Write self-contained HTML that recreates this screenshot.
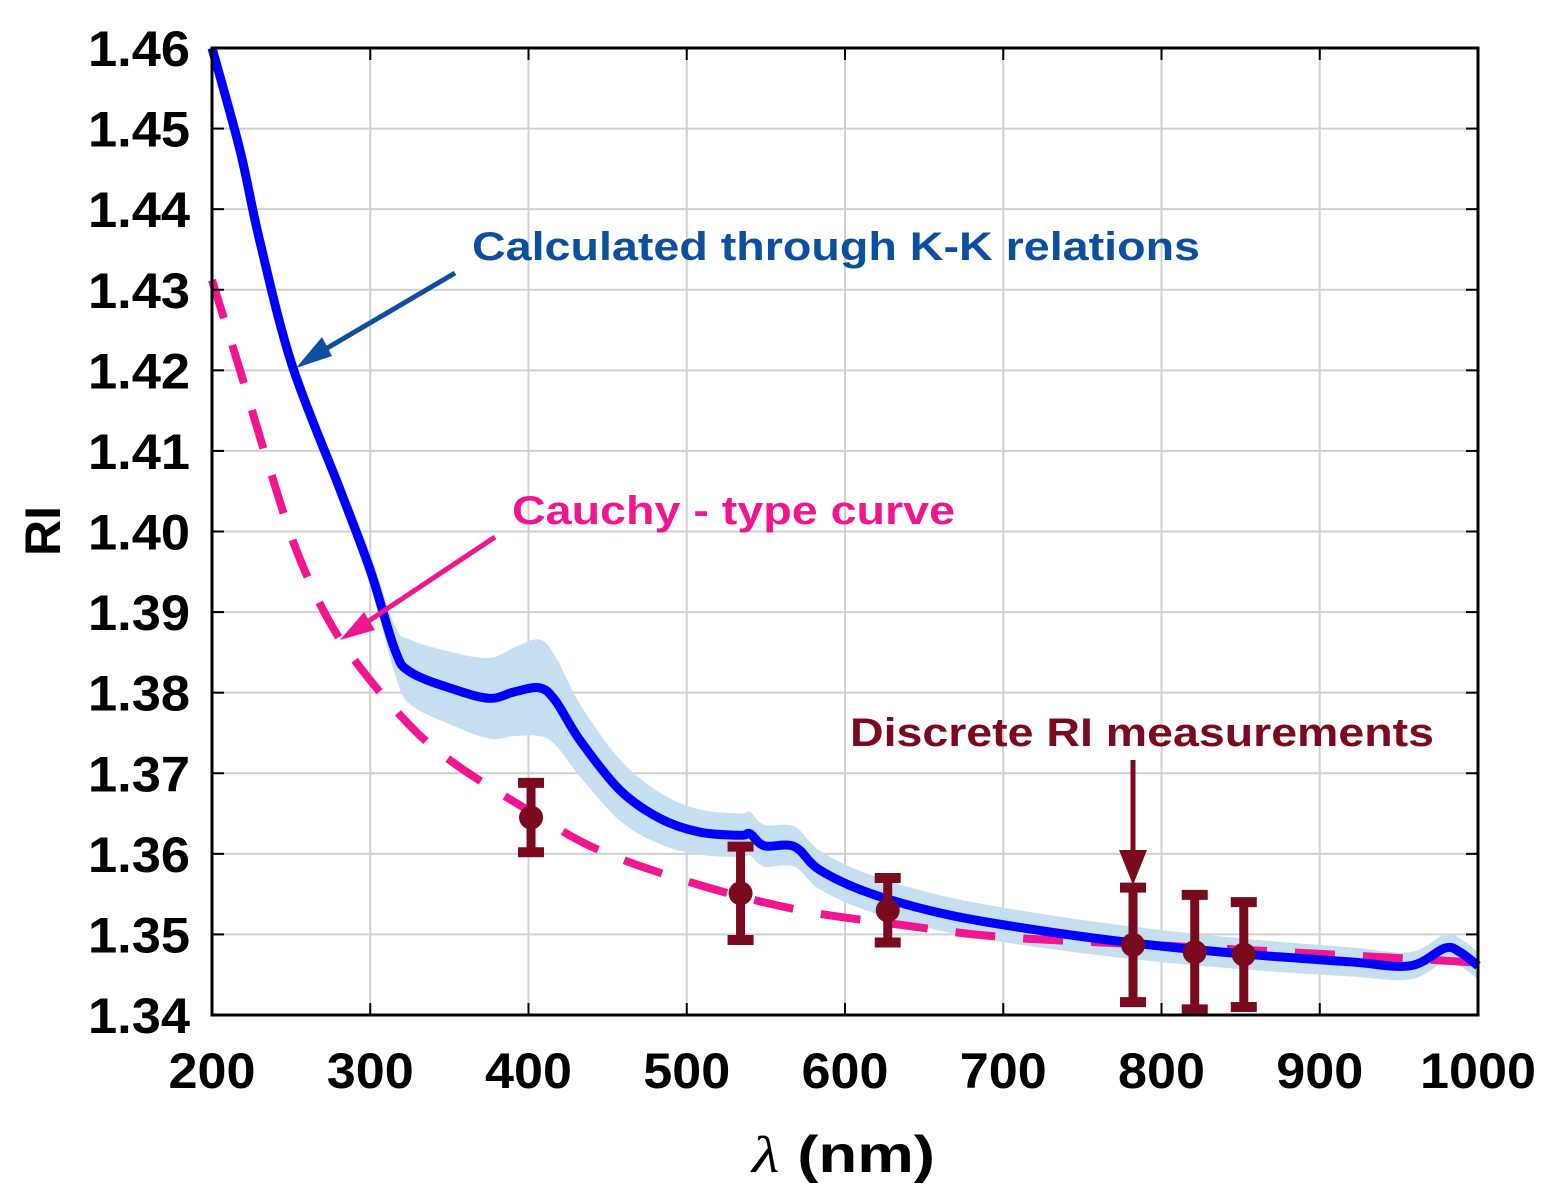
<!DOCTYPE html>
<html><head><meta charset="utf-8"><style>
body{margin:0;background:#fff;}
svg{display:block;font-family:"Liberation Sans",Arial,sans-serif;font-weight:bold;}
</style></head><body>
<svg id="chart" width="1551" height="1195" viewBox="0 0 1551 1195">
<g id="grid"></g>
<g id="band"></g>
<g id="series"></g>
<rect x="212" y="48" width="1266" height="967" fill="none" stroke="#000" stroke-width="3"/>
<g id="ticks"></g>
<text x="752" y="1172" font-size="52" textLength="183" lengthAdjust="spacingAndGlyphs"><tspan font-family="Liberation Serif" font-weight="normal" font-style="italic">λ</tspan> (nm)</text>
<text x="0" y="0" font-size="50" text-anchor="middle" transform="translate(60,531) rotate(-90)">RI</text>
<text x="472" y="260" font-size="40" fill="#0b4f9e" textLength="728" lengthAdjust="spacingAndGlyphs">Calculated through K-K relations</text>
<text x="512" y="524" font-size="40" fill="#f0168f" textLength="443" lengthAdjust="spacingAndGlyphs">Cauchy - type curve</text>
<text x="850" y="746" font-size="40" fill="#7a0a1e" textLength="584" lengthAdjust="spacingAndGlyphs">Discrete RI measurements</text>
<g><line x1="455" y1="273" x2="312" y2="357" stroke="#0b4f9e" stroke-width="5"/><polygon points="296,368 322,337 332,356" fill="#0b4f9e"/></g>
<g><line x1="495" y1="537" x2="355" y2="630" stroke="#f0168f" stroke-width="5"/><polygon points="340,640 364,612 375,630" fill="#f0168f"/></g>
<g><line x1="1133" y1="760" x2="1133" y2="858" stroke="#7a0a1e" stroke-width="5"/><polygon points="1133,885 1119,850 1147,850" fill="#7a0a1e"/></g>
</svg>
<script>
const xTicks=[200,300,400,500,600,700,800,900,1000];
const yTicks=[1.34,1.35,1.36,1.37,1.38,1.39,1.40,1.41,1.42,1.43,1.44,1.45,1.46];
const kkNm=[200,217.7,230,250.5,280.9,300,315.6,325,350,375,391,407,417,432.5,457.8,483,508,534,540,549,568,584,616,666,729.5,792.7,856,919,957,979,988.6,1000];
const kkRI=[1.46,1.4473,1.4362,1.4207,1.4052,1.3952,1.3853,1.3826,1.3806,1.3793,1.3801,1.3806,1.379,1.3741,1.3679,1.3644,1.3627,1.3623,1.3625,1.361,1.3609,1.358,1.3551,1.3524,1.3503,1.3487,1.3475,1.3466,1.3461,1.3483,1.3478,1.3461];
const kkErr=[0.0005,0.0008,0.001,0.0012,0.0015,0.002,0.003,0.004,0.0045,0.005,0.0055,0.006,0.0055,0.0045,0.0038,0.0032,0.0028,0.0027,0.0027,0.0026,0.0025,0.0024,0.0023,0.0022,0.0021,0.002,0.0019,0.0018,0.0017,0.0017,0.0017,0.0017];
const cNm=[200,217.7,236.7,255.7,281,318.9,350.5,399.8,445.3,508.5,571.7,634.9,698.1,792.9,937.2,1000];
const cRI=[1.4312,1.42,1.4076,1.3965,1.3866,1.3772,1.3716,1.3654,1.3604,1.3561,1.353,1.3512,1.3497,1.3487,1.3472,1.3465];
const mNm=[401.6,534,627,782,821,852];
const mRI=[1.3645,1.3551,1.353,1.3487,1.3478,1.3475];
const mErr=[0.0043,0.0058,0.004,0.0071,0.0071,0.0065];
const X=v=>212+(v-200)/800*1266, Y=v=>48+(1.46-v)/0.12*967;
const NS='http://www.w3.org/2000/svg';
function mk(p,t,a){const e=document.createElementNS(NS,t);for(const k in a)e.setAttribute(k,a[k]);p.appendChild(e);return e;}
function smooth(pts){let d='M'+pts[0][0]+','+pts[0][1];for(let i=0;i<pts.length-1;i++){const p0=pts[i-1]||pts[i],p1=pts[i],p2=pts[i+1],p3=pts[i+2]||p2;
d+=' C'+(p1[0]+(p2[0]-p0[0])/6)+','+(p1[1]+(p2[1]-p0[1])/6)+' '+(p2[0]-(p3[0]-p1[0])/6)+','+(p2[1]-(p3[1]-p1[1])/6)+' '+p2[0]+','+p2[1];}return d;}
const grid=document.getElementById('grid'),ticks=document.getElementById('ticks');
xTicks.forEach(t=>{const l=mk(grid,'line',{x1:X(t),x2:X(t),y1:48,y2:1015,stroke:'#d0d0d0','stroke-width':2});

mk(ticks,'line',{x1:X(t),x2:X(t),y1:1015,y2:1003,stroke:'#000','stroke-width':2});mk(ticks,'line',{x1:X(t),x2:X(t),y1:48,y2:60,stroke:'#000','stroke-width':2});
const s=String(t);const tx=mk(ticks,'text',{x:X(t),y:1088,'font-size':50,'text-anchor':'middle',textLength:s.length*29,lengthAdjust:'spacingAndGlyphs'});tx.textContent=s;
});
yTicks.forEach(t=>{const l=mk(grid,'line',{x1:212,x2:1478,y1:Y(t),y2:Y(t),stroke:'#d0d0d0','stroke-width':2});

mk(ticks,'line',{x1:212,x2:224,y1:Y(t),y2:Y(t),stroke:'#000','stroke-width':2});mk(ticks,'line',{x1:1466,x2:1478,y1:Y(t),y2:Y(t),stroke:'#000','stroke-width':2});
const tx=mk(ticks,'text',{x:88,y:Y(t)+18,'font-size':50,textLength:102,lengthAdjust:'spacingAndGlyphs'});tx.textContent=t.toFixed(2);
});
const up=kkNm.map((n,i)=>[X(n),Y(kkRI[i]+kkErr[i])]),lo=kkNm.map((n,i)=>[X(n),Y(kkRI[i]-kkErr[i])]).reverse();
const b=mk(document.getElementById('band'),'path',{d:smooth(up)+' L'+smooth(lo).slice(1)+' Z',fill:'#c6dff0'});

const s=document.getElementById('series');
const c=mk(s,'path',{d:smooth(cNm.map((n,i)=>[X(n),Y(cRI[i])])),fill:'none',stroke:'#f0168f','stroke-width':8,'stroke-dasharray':'40 28'});

const k=mk(s,'path',{d:smooth(kkNm.map((n,i)=>[X(n),Y(kkRI[i])])),fill:'none',stroke:'#0000ff','stroke-width':9,'stroke-linejoin':'round'});

mNm.forEach((n,i)=>{const g=mk(s,'g',{});
const x=X(n),t=Y(mRI[i]+mErr[i]),bt=Y(mRI[i]-mErr[i]),col='#7a0a1e';
mk(g,'line',{x1:x,x2:x,y1:t,y2:bt,stroke:col,'stroke-width':9});
mk(g,'line',{x1:x-13,x2:x+13,y1:t,y2:t,stroke:col,'stroke-width':10});
mk(g,'line',{x1:x-13,x2:x+13,y1:bt,y2:bt,stroke:col,'stroke-width':10});
mk(g,'circle',{cx:x,cy:Y(mRI[i]),r:12,fill:col});});
</script>
</body></html>
